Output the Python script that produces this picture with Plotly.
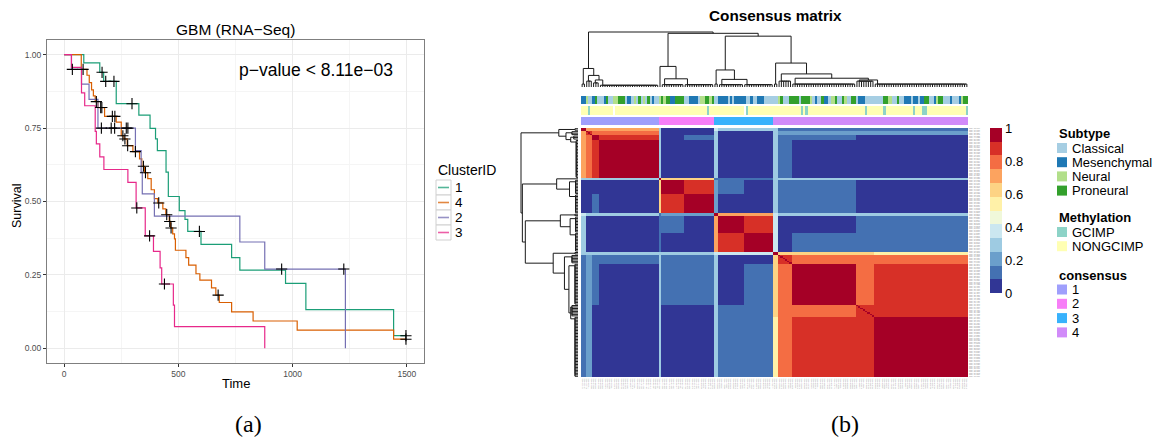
import sys
import numpy as np
import plotly.graph_objects as go

sys.setrecursionlimit(10000)

W, H = 1153, 439
def PX(x): return x / W
def PY(y): return 1 - y / H

FONT = "Liberation Sans, Arial, Helvetica, sans-serif"
SERIF = "Liberation Serif, DejaVu Serif, serif"

# ======================= (a) Kaplan-Meier data =======================
cluster_levels = ["1", "4", "2", "3"]
cluster_colors = ["#1B9E77", "#D95F02", "#7570B3", "#E7298A"]

km_time_1 = [0, 86, 156, 173, 228, 327, 376, 400, 408, 446, 456, 504, 529, 541, 599, 733, 769, 969, 1058, 1442, 1496]
km_surv_1 = [1.0, 0.972, 0.94, 0.909, 0.833, 0.794, 0.749, 0.713, 0.673, 0.600, 0.517, 0.469, 0.439, 0.398, 0.354, 0.309, 0.266, 0.221, 0.132, 0.043, 0.043]
cens_time_1 = [166, 182, 218, 297, 592, 1496]

km_time_4 = [0, 75, 100, 110, 120, 128, 136, 148, 177, 228, 250, 262, 276, 301, 330, 340, 352, 366, 381, 395,
             410, 432, 445, 460, 466, 475, 483, 487, 533, 545, 577, 594, 645, 664, 679, 733, 827, 1020, 1442, 1496]
km_surv_4 = [1.0, 0.95, 0.93, 0.905, 0.88, 0.86, 0.84, 0.82, 0.79, 0.77, 0.724, 0.713, 0.69, 0.67, 0.645, 0.62, 0.598, 0.578, 0.54, 0.51,
             0.495, 0.475, 0.455, 0.432, 0.41, 0.39, 0.373, 0.334, 0.309, 0.283, 0.254, 0.232, 0.206, 0.181, 0.156, 0.124, 0.093, 0.062, 0.031, 0.031]
cens_time_4 = [83, 141, 160, 165, 211, 222, 257, 266, 278, 312, 347, 356, 414, 449, 462, 468, 674, 1496]

km_time_2 = [0, 32, 76, 109, 148, 312, 337, 342, 395, 769, 878, 1231]
km_surv_2 = [1.0, 0.95, 0.90, 0.848, 0.75, 0.673, 0.60, 0.526, 0.45, 0.362, 0.27, 0.0]
cens_time_2 = [36, 163, 206, 221, 272, 279, 952, 1224]

km_time_3 = [0, 32, 76, 90, 136, 141, 156, 174, 279, 315, 355, 391, 420, 427, 478, 483, 878]
km_surv_3 = [1.0, 0.957, 0.87, 0.826, 0.739, 0.696, 0.652, 0.609, 0.565, 0.478, 0.383, 0.33, 0.274, 0.219, 0.147, 0.074, 0.0]
cens_time_3 = [318, 374, 439]

km_x_ticks = [0, 500, 1000, 1500]
km_y_ticks = [0.0, 0.25, 0.50, 0.75, 1.0]
km_y_ticktext = ["0.00", "0.25", "0.50", "0.75", "1.00"]

# ======================= (b) Consensus matrix data =======================
# sample sub-groups (display order) and their block consensus values
group_sizes = [2, 3, 3, 26, 1, 10, 13, 2, 11, 13, 2, 6, 28, 8, 41]
group_cluster = [1, 1, 1, 1, 2, 2, 2, 3, 3, 3, 4, 4, 4, 4, 4]
group_sim = [
    [0.95, 0.72, 0.68, 0.68, 0.30, 0.03, 0.03, 0.35, 0.30, 0.30, 0.30, 0.14, 0.14, 0.14, 0.14],
    [0.72, 0.90, 0.82, 0.80, 0.30, 0.02, 0.02, 0.28, 0.02, 0.02, 0.30, 0.20, 0.20, 0.18, 0.18],
    [0.68, 0.82, 0.93, 0.88, 0.30, 0.02, 0.15, 0.28, 0.02, 0.02, 0.30, 0.14, 0.12, 0.08, 0.05],
    [0.68, 0.80, 0.88, 0.97, 0.30, 0.02, 0.02, 0.28, 0.02, 0.02, 0.30, 0.14, 0.04, 0.08, 0.02],
    [0.30, 0.30, 0.30, 0.30, 1.00, 0.66, 0.64, 0.10, 0.10, 0.10, 0.30, 0.30, 0.30, 0.30, 0.30],
    [0.03, 0.02, 0.02, 0.02, 0.66, 0.96, 0.86, 0.18, 0.12, 0.03, 0.30, 0.12, 0.12, 0.06, 0.04],
    [0.03, 0.02, 0.15, 0.02, 0.64, 0.86, 0.96, 0.18, 0.03, 0.03, 0.30, 0.10, 0.12, 0.06, 0.05],
    [0.35, 0.28, 0.28, 0.28, 0.10, 0.18, 0.18, 0.95, 0.72, 0.70, 0.35, 0.30, 0.30, 0.30, 0.30],
    [0.30, 0.02, 0.02, 0.02, 0.10, 0.12, 0.03, 0.72, 0.96, 0.87, 0.35, 0.06, 0.06, 0.12, 0.14],
    [0.30, 0.02, 0.02, 0.02, 0.10, 0.03, 0.03, 0.70, 0.87, 0.96, 0.35, 0.06, 0.10, 0.12, 0.14],
    [0.30, 0.30, 0.30, 0.30, 0.30, 0.30, 0.30, 0.35, 0.35, 0.35, 0.95, 0.62, 0.60, 0.60, 0.58],
    [0.14, 0.20, 0.14, 0.14, 0.30, 0.12, 0.10, 0.30, 0.06, 0.06, 0.62, 0.90, 0.80, 0.78, 0.76],
    [0.14, 0.20, 0.12, 0.04, 0.30, 0.12, 0.12, 0.30, 0.06, 0.10, 0.60, 0.80, 0.95, 0.80, 0.86],
    [0.14, 0.18, 0.08, 0.08, 0.30, 0.06, 0.06, 0.30, 0.12, 0.12, 0.60, 0.78, 0.80, 0.90, 0.88],
    [0.14, 0.18, 0.05, 0.02, 0.30, 0.04, 0.05, 0.30, 0.14, 0.14, 0.58, 0.76, 0.86, 0.88, 0.95],
]

subtype_run_cat = (["Mesenchymal", "Neural", "Classical", "Mesenchymal", "Proneural", "Classical", "Mesenchymal", "Proneural",
                    "Classical", "Neural", "Proneural", "Classical", "Mesenchymal", "Classical", "Neural", "Classical",
                    "Proneural", "Classical", "Neural", "Classical", "Proneural", "Classical", "Mesenchymal", "Classical"] +
                   ["Neural", "Proneural", "Neural", "Proneural", "Mesenchymal", "Proneural", "Classical", "Mesenchymal",
                    "Classical", "Neural", "Proneural", "Neural", "Proneural"] +
                   ["Classical", "Mesenchymal", "Classical", "Mesenchymal", "Classical", "Mesenchymal", "Classical",
                    "Mesenchymal", "Classical", "Mesenchymal", "Classical"] +
                   ["Classical", "Neural", "Proneural", "Classical", "Proneural", "Classical", "Proneural", "Neural",
                    "Classical", "Mesenchymal", "Classical", "Proneural", "Mesenchymal", "Classical", "Neural", "Proneural",
                    "Classical", "Proneural", "Neural", "Classical", "Proneural", "Classical", "Mesenchymal", "Classical",
                    "Proneural", "Neural", "Classical", "Proneural", "Classical", "Mesenchymal", "Classical", "Mesenchymal",
                    "Classical", "Mesenchymal", "Proneural", "Classical", "Mesenchymal", "Neural", "Proneural", "Classical",
                    "Mesenchymal", "Classical", "Mesenchymal", "Neural", "Proneural"])
subtype_run_len = ([2, 1, 2, 1, 1, 3, 1, 1, 2, 2, 3, 1, 2, 1, 1, 1, 1, 1, 1, 1, 1, 1, 1, 2] +
                   [1, 1, 1, 2, 2, 4, 2, 4, 1, 2, 2, 1, 1] +
                   [2, 4, 1, 1, 1, 5, 2, 1, 2, 3, 4] +
                   [2, 1, 1, 3, 4, 1, 4, 1, 1, 1, 2, 1, 2, 1, 2, 1, 2, 1, 1, 2, 2, 1, 3, 8, 2, 2, 2, 1, 2, 3,
                    1, 2, 1, 2, 2, 2, 1, 1, 2, 3, 1, 3, 1, 1, 2])

methyl_run_cat = ["NONGCIMP", "GCIMP", "NONGCIMP", "NA", "NONGCIMP", "GCIMP", "NONGCIMP", "NA", "GCIMP", "NONGCIMP",
                  "GCIMP", "NONGCIMP", "GCIMP", "NONGCIMP", "GCIMP", "NONGCIMP", "GCIMP", "NONGCIMP", "GCIMP",
                  "NONGCIMP", "GCIMP", "NONGCIMP", "GCIMP"]
methyl_run_len = [3, 1, 10, 1, 40, 1, 15, 1, 1, 23, 1, 1, 1, 25, 1, 7, 1, 12, 1, 3, 2, 17, 1]

subtype_levels = ["Classical", "Mesenchymal", "Neural", "Proneural"]
subtype_colors = ["#A6CEE3", "#1F78B4", "#B2DF8A", "#33A02C"]
methyl_levels = ["GCIMP", "NONGCIMP"]
methyl_colors = ["#8DD3C7", "#FFFFB3"]
consensus_levels = ["1", "2", "3", "4"]
consensus_colors = ["#9F9FFC", "#F77EF7", "#38B2FC", "#D18BF9"]

heat_colors = ["#313695", "#4471B2", "#6B9FCB", "#9ECBE2", "#CBE7F0", "#F0F8DA",
               "#FFF1A8", "#FDD384", "#FCA35F", "#F46D43", "#D73027", "#A50026"]
cbar_ticks = [0, 0.2, 0.4, 0.6, 0.8, 1.0]
cbar_ticktext = ["0", "0.2", "0.4", "0.6", "0.8", "1"]


# ======================= helpers =======================
def discrete_scale(colors):
    k = len(colors)
    out = []
    for i, c in enumerate(colors):
        out.append([i / k, c])
        out.append([(i + 1) / k, c])
    return out


def expand(cats, lens):
    out = []
    for c, l in zip(cats, lens):
        out += [c] * l
    return out


def average_linkage(sim):
    n = sim.shape[0]
    D = 1.0 - np.array(sim, dtype=float)
    np.fill_diagonal(D, np.inf)
    size = np.ones(n)
    slot_node = list(range(n))
    children = {}
    nid = n
    for _ in range(n - 1):
        flat = D.ravel()
        k = flat.size - 1 - int(np.argmin(flat[::-1]))   # last minimum: chains lean left
        i, j = divmod(k, n)
        if i > j:
            i, j = j, i
        h = float(D[i, j])
        new = (size[i] * D[i] + size[j] * D[j]) / (size[i] + size[j])
        D[i, :] = new
        D[:, i] = new
        D[j, :] = np.inf
        D[:, j] = np.inf
        D[i, i] = np.inf
        children[nid] = (slot_node[i], slot_node[j], h)
        slot_node[i] = nid
        size[i] += size[j]
        nid += 1
    return children, nid - 1


# ======================= build consensus matrix =======================
S = np.array(group_sim)
S = (S + S.T) / 2
gid = np.repeat(np.arange(len(group_sizes)), group_sizes)
N = len(gid)
S_full = S[np.ix_(gid, gid)]
np.fill_diagonal(S_full, 1.0)

children, root = average_linkage(S_full)


def leaves(node):
    if node < N:
        return [node]
    a, b, _ = children[node]
    la, lb = leaves(a), leaves(b)
    if min(lb) < min(la):
        la, lb = lb, la
    return la + lb


order = leaves(root)
pos = {leaf: i for i, leaf in enumerate(order)}
seg_pos, seg_h = [], []


def node_coords(node):
    if node < N:
        return float(pos[node]), 0.0
    a, b, h = children[node]
    xa, ha = node_coords(a)
    xb, hb = node_coords(b)
    seg_pos.extend([xa, xa, xb, xb, None])
    seg_h.extend([ha, h, h, hb, None])
    return (xa + xb) / 2, h


node_coords(root)
root_h = children[root][2]

S_disp = S_full[np.ix_(order, order)]
cluster_disp = [str(group_cluster[g]) for g in gid[order]]

sample_ids = ["TCGA-%02d-%04d" % (2 + (i * 7) % 85, 100 + (i * 37) % 9000) for i in range(N)]
sample_ids = [sample_ids[i] for i in order]

subtype_seq = expand(subtype_run_cat, subtype_run_len)
methyl_seq = expand(methyl_run_cat, methyl_run_len)
assert len(subtype_seq) == N and len(methyl_seq) == N

ann_levels = subtype_levels + methyl_levels + ["NA"] + ["c" + c for c in consensus_levels]
ann_colors = subtype_colors + methyl_colors + ["#FFFFFF"] + consensus_colors
code = {k: i for i, k in enumerate(ann_levels)}
ann_z = [[code[v] for v in subtype_seq],
         [code[v] for v in methyl_seq],
         [code["c" + v] for v in cluster_disp]]

# ======================= figure =======================
fig = go.Figure()

km_times = [km_time_1, km_time_4, km_time_2, km_time_3]
km_survs = [km_surv_1, km_surv_4, km_surv_2, km_surv_3]
km_cens = [cens_time_1, cens_time_4, cens_time_2, cens_time_3]

for lvl, col, t, s in zip(cluster_levels, cluster_colors, km_times, km_survs):
    fig.add_trace(go.Scatter(x=t, y=s, mode="lines", line=dict(color=col, width=1.2, shape="hv"),
                             xaxis="x", yaxis="y", showlegend=False, hoverinfo="skip", name=lvl))
for t, s, ct in zip(km_times, km_survs, km_cens):
    ta, sa = np.array(t), np.array(s)
    idx = np.searchsorted(ta, np.array(ct), side="right") - 1
    fig.add_trace(go.Scatter(x=ct, y=sa[idx], mode="markers",
                             marker=dict(symbol="cross-thin", size=8, color="black",
                                         line=dict(color="black", width=1.1)),
                             xaxis="x", yaxis="y", showlegend=False, hoverinfo="skip"))

# consensus heatmap
fig.add_trace(go.Heatmap(
    z=S_disp, x=list(range(N)), y=list(range(N)), zmin=0, zmax=1,
    colorscale=discrete_scale(heat_colors), xaxis="x2", yaxis="y2", hoverinfo="skip",
    colorbar=dict(x=PX(990), xanchor="left", xpad=0, y=PY(128), yanchor="top", ypad=0,
                  len=165 / H, lenmode="fraction", thickness=12, thicknessmode="pixels",
                  outlinewidth=0, tickmode="array", tickvals=cbar_ticks, ticktext=cbar_ticktext,
                  ticks="", tickfont=dict(size=13, color="black", family=FONT))))

# annotation bars
fig.add_trace(go.Heatmap(
    z=ann_z, x=list(range(N)), y=[0, 1, 2], zmin=-0.5, zmax=len(ann_colors) - 0.5,
    colorscale=discrete_scale(ann_colors), showscale=False, ygap=2,
    xaxis="x5", yaxis="y5", hoverinfo="skip"))

# dendrograms
fig.add_trace(go.Scatter(x=seg_pos, y=seg_h, mode="lines", line=dict(color="#1a1a1a", width=1),
                         xaxis="x3", yaxis="y3", showlegend=False, hoverinfo="skip"))
fig.add_trace(go.Scatter(x=seg_h, y=seg_pos, mode="lines", line=dict(color="#1a1a1a", width=1),
                         xaxis="x4", yaxis="y4", showlegend=False, hoverinfo="skip"))

off = dict(visible=False, showgrid=False, zeroline=False, fixedrange=True)
pad_top = root_h / 55.0
pad_left = root_h / 57.0

fig.update_layout(
    width=W, height=H, margin=dict(l=0, r=0, t=0, b=0),
    paper_bgcolor="white", plot_bgcolor="white", hovermode=False,
    font=dict(family=FONT, color="black"),
    xaxis=dict(domain=[PX(47), PX(424)], range=[-75, 1575], anchor="y",
               tickmode="array", tickvals=km_x_ticks, ticktext=[str(v) for v in km_x_ticks],
               ticks="outside", ticklen=3, tickcolor="#333333",
               tickfont=dict(size=8.5, color="#4D4D4D"),
               showline=True, mirror=True, linecolor="#7F7F7F", linewidth=1,
               showgrid=True, gridcolor="#EBEBEB", gridwidth=1, zeroline=False,
               minor=dict(tickmode="array", tickvals=[250, 750, 1250], showgrid=True,
                          gridcolor="#F5F5F5", gridwidth=0.6, ticks="")),
    yaxis=dict(domain=[PY(363), PY(40)], range=[-0.05, 1.05], anchor="x",
               tickmode="array", tickvals=km_y_ticks, ticktext=km_y_ticktext,
               ticks="outside", ticklen=3, tickcolor="#333333",
               tickfont=dict(size=8.5, color="#4D4D4D"),
               showline=True, mirror=True, linecolor="#7F7F7F", linewidth=1,
               showgrid=True, gridcolor="#EBEBEB", gridwidth=1, zeroline=False,
               minor=dict(tickmode="array", tickvals=[0.125, 0.375, 0.625, 0.875], showgrid=True,
                          gridcolor="#F5F5F5", gridwidth=0.6, ticks="")),
    xaxis2=dict(domain=[PX(581), PX(968)], range=[-0.5, N - 0.5], anchor="y2",
                tickmode="array", tickvals=list(range(N)), ticktext=sample_ids, tickangle=90,
                tickfont=dict(size=1.6, color="#8C8C8C"), ticks="", showgrid=False, zeroline=False,
                showline=False),
    yaxis2=dict(domain=[PY(377), PY(128)], range=[N - 0.5, -0.5], anchor="x2", side="right",
                tickmode="array", tickvals=list(range(N)), ticktext=sample_ids,
                tickfont=dict(size=1.6, color="#8C8C8C"), ticks="", showgrid=False, zeroline=False,
                showline=False),
    xaxis3=dict(domain=[PX(581), PX(968)], range=[-0.5, N - 0.5], anchor="y3", **off),
    yaxis3=dict(domain=[PY(88), PY(31)], range=[-pad_top, root_h + pad_top], anchor="x3", **off),
    xaxis4=dict(domain=[PX(520), PX(579)], range=[root_h + pad_left, -pad_left], anchor="y4", **off),
    yaxis4=dict(domain=[PY(377), PY(128)], range=[N - 0.5, -0.5], anchor="x4", **off),
    xaxis5=dict(domain=[PX(581), PX(968)], range=[-0.5, N - 0.5], anchor="y5", **off),
    yaxis5=dict(domain=[PY(126), PY(95)], range=[2.5, -0.5], anchor="x5", **off),
)

ann = []
shapes = []


def text(x, y, s, size=12, xanchor="center", bold=False, family=FONT, color="black", angle=0):
    ann.append(dict(x=PX(x), y=PY(y), xref="paper", yref="paper", text=("<b>%s</b>" % s) if bold else s,
                    showarrow=False, xanchor=xanchor, yanchor="middle", textangle=angle,
                    font=dict(size=size, family=family, color=color)))


# (a) texts
text(235.5, 29, "GBM (RNA\u2212Seq)", size=15.5)
text(315.5, 70, "p\u2212value < 8.11e\u221203", size=17.5)
text(236, 383, "Time", size=13)
text(17, 206, "Survival", size=12.5, angle=-90)

# ClusterID legend
text(436, 170, "ClusterID", size=14, xanchor="left")
for i, (lvl, col) in enumerate(zip(cluster_levels, cluster_colors)):
    y0 = 180 + 15 * i
    shapes.append(dict(type="rect", xref="paper", yref="paper", x0=PX(436), x1=PX(451),
                       y0=PY(y0 + 15), y1=PY(y0), line=dict(color="#D0D0D0", width=1), fillcolor="white"))
    shapes.append(dict(type="line", xref="paper", yref="paper", x0=PX(438), x1=PX(449),
                       y0=PY(y0 + 7.5), y1=PY(y0 + 7.5), line=dict(color=col, width=1.6), opacity=0.75))
    text(453, y0 + 7.5, lvl, size=13.5, xanchor="left")

# (b) texts
text(775, 16, "Consensus matrix", size=15.3, bold=True)


def legend_block(title, title_y, labels, colors, first_y, step):
    text(1057, title_y, title, size=13, xanchor="left", bold=True)
    for i, (lab, col) in enumerate(zip(labels, colors)):
        cy = first_y + step * i
        shapes.append(dict(type="rect", xref="paper", yref="paper", x0=PX(1057), x1=PX(1067),
                           y0=PY(cy + 5), y1=PY(cy - 5), line=dict(width=0), fillcolor=col))
        text(1070, cy, lab, size=13, xanchor="left")


legend_block("Subtype", 134, subtype_levels, subtype_colors, 148, 14.2)
legend_block("Methylation", 218, methyl_levels, methyl_colors, 232, 14.2)
legend_block("consensus", 275, consensus_levels, consensus_colors, 289.5, 14.3)

# captions
text(248, 424, "(a)", size=24, family=SERIF)
text(845, 424, "(b)", size=24, family=SERIF)

fig.update_layout(annotations=ann, shapes=shapes)
fig.write_html("out.html", config={"displayModeBar": False},
               post_script="document.body.style.margin='0';document.body.style.overflow='hidden';")
